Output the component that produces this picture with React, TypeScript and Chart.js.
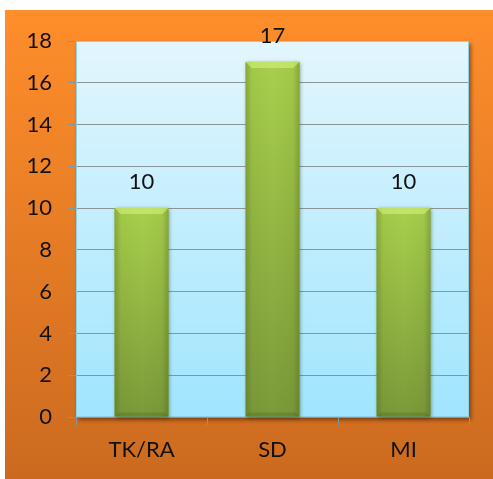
import React, { useEffect, useRef } from "react";
import { Chart, registerables } from "chart.js";
Chart.register(...registerables);

const categories = ["TK/RA", "SD", "MI"];
const values = [10, 17, 10];
const yMin = 0;
const yMax = 18;
const yStep = 2;

const FONT = "Lato, 'Open Sans', sans-serif";

export default function App() {
  const ref = useRef<HTMLCanvasElement>(null);
  useEffect(() => {
    document.body.style.margin = "0";
    const canvas = ref.current!;
    const bgPlugin = {
      id: "bgPlugin",
      beforeDraw(chart: any) {
        const { ctx, width, height, chartArea: a } = chart;
        ctx.save();
        ctx.fillStyle = "#ffffff";
        ctx.fillRect(0, 0, width, height);
        const g = ctx.createLinearGradient(0, 10, 0, height);
        g.addColorStop(0, "#ff8e2b");
        g.addColorStop(1, "#cb6a1f");
        ctx.fillStyle = g;
        ctx.fillRect(5, 10, width - 5, height - 10);
        ctx.shadowColor = "rgba(60,20,0,0.55)";
        ctx.shadowBlur = 4;
        ctx.shadowOffsetX = 2;
        ctx.shadowOffsetY = 3;
        const pg = ctx.createLinearGradient(0, a.top, 0, a.bottom);
        pg.addColorStop(0, "#e3f6fd");
        pg.addColorStop(1, "#a0e5fe");
        ctx.fillStyle = pg;
        ctx.fillRect(a.left, a.top, a.right - a.left, a.bottom - a.top);
        ctx.restore();
      },
      afterDatasetsDraw(chart: any) {
        const { ctx, chartArea: a } = chart;
        ctx.save();
        ctx.strokeStyle = "#8fd0e6";
        ctx.lineWidth = 1;
        ctx.strokeRect(a.left + 0.5, a.top + 0.5, a.right - a.left - 1, a.bottom - a.top - 1);
        const meta = chart.getDatasetMeta(0);
        meta.data.forEach((bar: any, i: number) => {
          const x0 = bar.x - bar.width / 2;
          const x1 = bar.x + bar.width / 2;
          const top = bar.y;
          const bot = bar.base;
          const w = x1 - x0;
          const h = bot - top;
          const b = 6;
          ctx.save();
          ctx.shadowColor = "rgba(40,50,0,0.5)";
          ctx.shadowBlur = 4;
          ctx.shadowOffsetX = 1;
          ctx.shadowOffsetY = 1;
          const vg = ctx.createLinearGradient(0, top, 0, bot);
          vg.addColorStop(0, "#a9d04c");
          vg.addColorStop(1, "#7b9a3a");
          ctx.fillStyle = vg;
          ctx.fillRect(x0, top, w, h);
          ctx.restore();
          const hg = ctx.createLinearGradient(x0, 0, x1, 0);
          hg.addColorStop(0, "rgba(50,70,10,0.28)");
          hg.addColorStop(0.12, "rgba(50,70,10,0.05)");
          hg.addColorStop(0.5, "rgba(50,70,10,0)");
          hg.addColorStop(0.88, "rgba(50,70,10,0.05)");
          hg.addColorStop(1, "rgba(50,70,10,0.28)");
          ctx.fillStyle = hg;
          ctx.fillRect(x0, top, w, h);
          // top bevel
          ctx.fillStyle = "rgba(215,245,130,0.55)";
          ctx.beginPath();
          ctx.moveTo(x0, top);
          ctx.lineTo(x1, top);
          ctx.lineTo(x1 - b, top + b);
          ctx.lineTo(x0 + b, top + b);
          ctx.closePath();
          ctx.fill();
          // bottom bevel
          ctx.fillStyle = "rgba(60,80,15,0.22)";
          ctx.beginPath();
          ctx.moveTo(x0, bot);
          ctx.lineTo(x1, bot);
          ctx.lineTo(x1 - 4, bot - 4);
          ctx.lineTo(x0 + 4, bot - 4);
          ctx.closePath();
          ctx.fill();
          // label
          ctx.fillStyle = "#111";
          ctx.font = `22px ${FONT}`;
          ctx.textAlign = "center";
          ctx.textBaseline = "middle";
          ctx.fillText(String(values[i]), bar.x, top - 26);
        });
        ctx.restore();
      },
    };
    const chart = new Chart(canvas, {
      type: "bar",
      data: {
        labels: categories,
        datasets: [
          {
            data: values,
            backgroundColor: "#9cc44a",
            borderWidth: 0,
            categoryPercentage: 1,
            barPercentage: 0.41,
          },
        ],
      },
      options: {
        responsive: false,
        animation: false,
        devicePixelRatio: 1,
        layout: { padding: { left: 0, top: 41, right: 24, bottom: 0 } },
        plugins: { legend: { display: false }, tooltip: { enabled: false } },
        scales: {
          y: {
            min: yMin,
            max: yMax,
            ticks: { stepSize: yStep, padding: 16, color: "#111", font: { family: FONT, size: 22 } },
            grid: { color: "#8a9597", lineWidth: 1, tickLength: 8 },
            border: { display: false },
            afterFit(s: any) {
              s.width = 76;
            },
          },
          x: {
            ticks: { padding: 12, color: "#111", font: { family: FONT, size: 22 } },
            grid: { drawOnChartArea: false, color: "#8a9597", tickLength: 8, offset: true },
            border: { display: false },
            afterFit(s: any) {
              s.height = 62;
            },
          },
        },
      },
      plugins: [bgPlugin],
    });
    return () => chart.destroy();
  }, []);
  return (
    <div style={{ position: "absolute", left: 0, top: 0, width: 493, height: 479 }}>
      <canvas ref={ref} width={493} height={479} style={{ display: "block", width: 493, height: 479 }} />
    </div>
  );
}
